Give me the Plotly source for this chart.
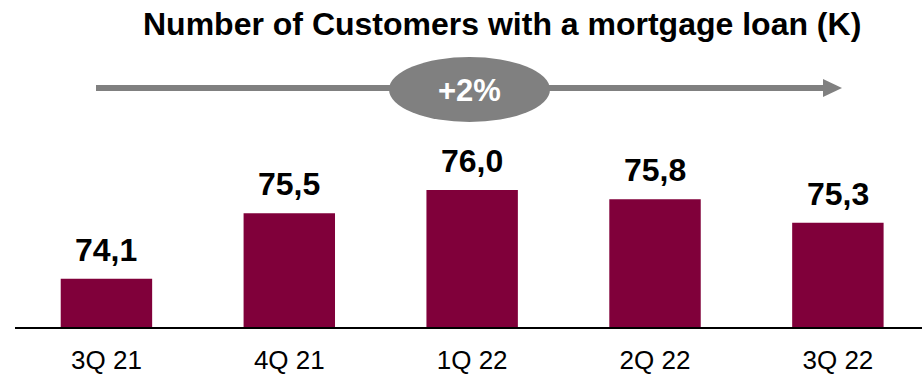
import plotly.graph_objects as go

# Customers with a mortgage loan, thousands
quarters = ["3Q 21", "4Q 21", "1Q 22", "2Q 22", "3Q 22"]
customers_k = [74.1, 75.5, 76.0, 75.8, 75.3]
growth_label = "+2%"
title_text = "Number of Customers with a mortgage loan (K)"

W, H = 922, 376
ML, MR, MT, MB = 15, 0, 0, 49
PW, PH = W - ML - MR, H - MT - MB

FONT = "Arial, 'Liberation Sans', sans-serif"
BAR_COLOR = "#80003A"
GREY = "#808080"


def px_x(p):
    return (p - ML) / PW


def px_y(p):
    return (H - MB - p) / PH


def fmt(v):
    return f"{v:.1f}".replace(".", ",")


fig = go.Figure()
fig.add_trace(go.Bar(
    x=quarters,
    y=customers_k,
    marker=dict(color=BAR_COLOR, line=dict(width=0)),
    hoverinfo="skip",
))

# value labels above bars
for q, v in zip(quarters, customers_k):
    fig.add_annotation(
        x=q, y=v, xref="x", yref="y",
        text=f"<b>{fmt(v)}</b>", showarrow=False,
        yanchor="bottom", yshift=9,
        font=dict(family=FONT, size=32, color="#000000"),
    )

# growth arrow with ellipse badge
fig.add_shape(type="line", xref="paper", yref="paper",
              x0=px_x(96), x1=px_x(825), y0=px_y(88), y1=px_y(88),
              line=dict(color=GREY, width=6))
fig.add_shape(type="path", xref="paper", yref="paper",
              path=f"M {px_x(823)},{px_y(79)} L {px_x(842)},{px_y(88)} L {px_x(823)},{px_y(97)} Z",
              fillcolor=GREY, line=dict(width=0))
fig.add_shape(type="circle", xref="paper", yref="paper",
              x0=px_x(389), x1=px_x(550), y0=px_y(57), y1=px_y(122),
              fillcolor=GREY, line=dict(width=0))
fig.add_annotation(x=px_x(469.5), y=px_y(90), xref="paper", yref="paper",
                   text=f"<b>{growth_label}</b>", showarrow=False,
                   xanchor="center", yanchor="middle",
                   font=dict(family=FONT, size=31, color="#FFFFFF"))

# title
fig.add_annotation(x=px_x(501.5), y=px_y(24), xref="paper", yref="paper",
                   text=f"<b>{title_text}</b>", showarrow=False,
                   xanchor="center", yanchor="middle",
                   font=dict(family=FONT, size=32, color="#000000"))

fig.update_layout(
    width=W, height=H, autosize=False,
    margin=dict(l=ML, r=MR, t=MT, b=MB, pad=0),
    paper_bgcolor="#FFFFFF", plot_bgcolor="#FFFFFF",
    showlegend=False, bargap=0.5,
    xaxis=dict(range=[-0.5, 4.46], showline=True, linecolor="#000000", linewidth=2,
               showgrid=False, zeroline=False, ticks="", ticklabelstandoff=9,
               tickfont=dict(family=FONT, size=26, color="#000000")),
    yaxis=dict(range=[73.07, 73.07 + PH / 46.8], visible=False, showgrid=False, zeroline=False),
)

fig.write_html("out.html", config={"displayModeBar": False})
